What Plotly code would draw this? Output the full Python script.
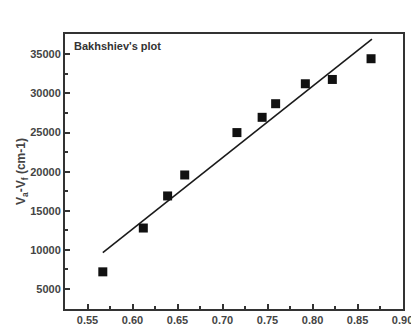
import plotly.graph_objects as go

x_vals = [0.567, 0.612, 0.639, 0.658, 0.716, 0.744, 0.759, 0.792, 0.822, 0.865]
y_vals = [7200, 12800, 16900, 19580, 25000, 26950, 28690, 31240, 31790, 34440]
fit_x = [0.567, 0.866]
fit_y = [9650, 36950]

x_ticks = [0.55, 0.60, 0.65, 0.70, 0.75, 0.80, 0.85, 0.90]
x_labels = ["0.55", "0.60", "0.65", "0.70", "0.75", "0.80", "0.85", "0.90"]
y_ticks = [5000, 10000, 15000, 20000, 25000, 30000, 35000]
y_labels = ["5000", "10000", "15000", "20000", "25000", "30000", "35000"]

fig = go.Figure()
fig.add_trace(go.Scatter(x=fit_x, y=fit_y, mode="lines",
                         line=dict(color="#1a1a1a", width=1.6), showlegend=False))
fig.add_trace(go.Scatter(x=x_vals, y=y_vals, mode="markers",
                         marker=dict(symbol="square", size=9, color="#111111"),
                         showlegend=False))

fig.add_annotation(text="<b>Bakhshiev's plot</b>", x=0.02, y=0.985, xref="paper", yref="paper",
                   xanchor="left", yanchor="top", showarrow=False,
                   font=dict(family="Liberation Sans", size=11, color="#333333"))

axis_font = dict(family="Liberation Sans", size=11, color="#444444", weight="bold")

fig.update_xaxes(range=[0.525, 0.9005], tickvals=x_ticks, ticktext=x_labels,
                 ticklabeloverflow="allow", automargin=False,
                 showline=True, linecolor="#333333", linewidth=2, mirror=True,
                 ticks="inside", ticklen=5, tickwidth=2, tickcolor="#333333",
                 minor=dict(ticks="inside", ticklen=3, tickwidth=2, tickcolor="#333333", dtick=0.025, tick0=0.525),
                 showgrid=False, zeroline=False, tickfont=axis_font)
fig.update_yaxes(range=[2450, 37600], tickvals=y_ticks, ticktext=y_labels,
                 automargin=False,
                 showline=True, linecolor="#333333", linewidth=2, mirror=True,
                 ticks="inside", ticklen=5, tickwidth=2, tickcolor="#333333",
                 minor=dict(ticks="inside", ticklen=3, tickwidth=2, tickcolor="#333333", dtick=2500, tick0=0),
                 showgrid=False, zeroline=False, tickfont=axis_font,
                 title=dict(text="V<sub>a</sub>-V<sub>f</sub> (cm-1)", standoff=2,
                            font=dict(family="Liberation Sans", size=12, color="#444444", weight="bold")))

fig.update_layout(width=411, height=329, margin=dict(l=65, r=8, t=34, b=20),
                  plot_bgcolor="white", paper_bgcolor="white")

fig.write_html("out.html")
